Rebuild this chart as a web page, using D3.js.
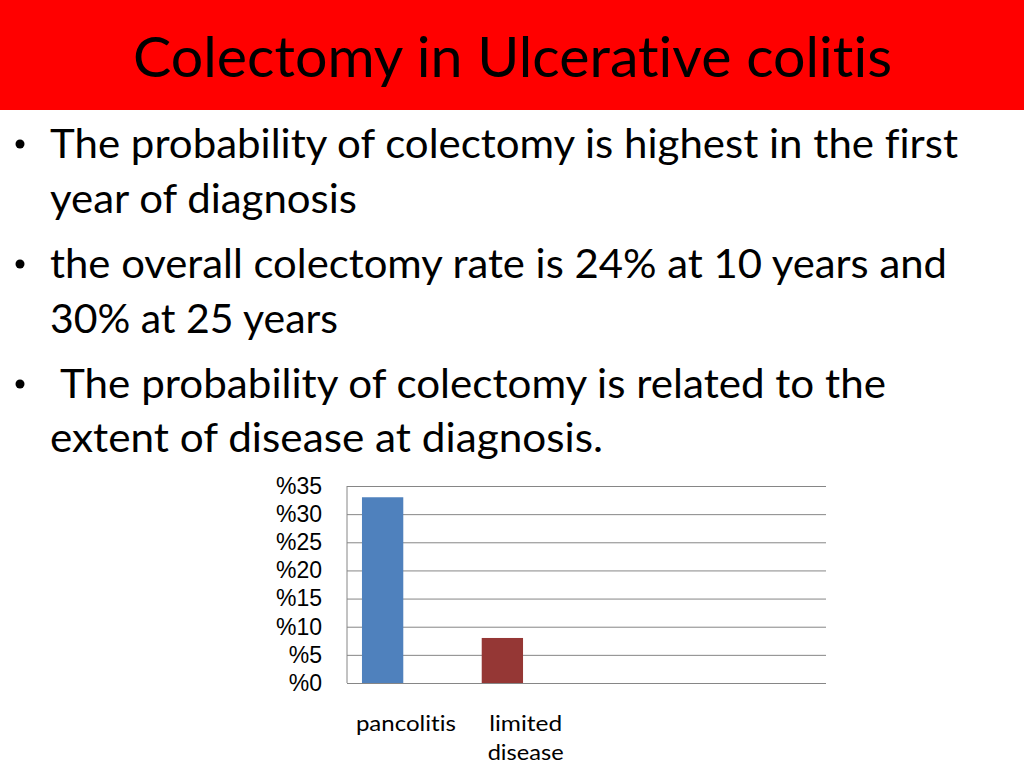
<!DOCTYPE html>
<html>
<head>
<meta charset="utf-8">
<script src="https://cdn.jsdelivr.net/npm/d3@7"></script>
<style>
  html, body { margin: 0; padding: 0; background: #fff; }
  svg { display: block; }
  text { font-variant-ligatures: none; font-feature-settings: "liga" 0, "clig" 0; }
</style>
</head>
<body>
<svg id="slide" width="1024" height="768"></svg>
<script>
// ---- data ----
const titleText = "Colectomy in Ulcerative colitis";
const bulletLines = [
  ["The probability of colectomy is highest in the first", "year of diagnosis"],
  ["the overall colectomy rate is 24% at 10 years and", "30% at 25 years"],
  [" The probability of colectomy is related to the", "extent of disease at diagnosis."]
];
const categoryLines = [["pancolitis"], ["limited", "disease"], [], []];
const values = [33, 8, null, null];
const barColors = ["#4F81BD", "#953735", "#9BBB59", "#8064A2"];
const yTicks = [0, 5, 10, 15, 20, 25, 30, 35];
const yTickLabels = ["%0", "%5", "%10", "%15", "%20", "%25", "%30", "%35"];

// ---- layout ----
const svg = d3.select("#slide");
const W = 1024, H = 768;
const bodyFont = "Lato, 'Open Sans', sans-serif";

function fit(sel, w) {
  if (w) sel.attr("textLength", w).attr("lengthAdjust", "spacingAndGlyphs");
  return sel;
}

// header
svg.append("rect").attr("x", 0).attr("y", 0).attr("width", W).attr("height", 110).attr("fill", "#FF0000");
fit(svg.append("text")
  .attr("x", 133).attr("y", 77)
  .attr("font-family", bodyFont).attr("font-size", 57)
  .attr("fill", "#000")
  .text(titleText), 759);

// bullets
const lineBase = [[158, 213], [278, 333], [398, 452]];
const lineWidths = [[908, 307], [897, 288], [826, 553]];
const lineX = [[50, 50], [50, 50], [60, 50]];
bulletLines.forEach((lines, i) => {
  svg.append("circle").attr("cx", 20).attr("cy", lineBase[i][0] - 14).attr("r", 4.5).attr("fill", "#000");
  lines.forEach((t, j) => {
    fit(svg.append("text")
      .attr("x", lineX[i][j]).attr("y", lineBase[i][j])
      .attr("font-family", bodyFont).attr("font-size", 41)
      .attr("fill", "#000")
      .text(t.trim()), lineWidths[i][j]);
  });
});

// chart
const plot = { left: 347, right: 826, top: 486, bottom: 683 };
const x = d3.scaleBand().domain(d3.range(categoryLines.length)).range([plot.left, plot.right]).paddingInner(0).paddingOuter(0);
const y = d3.scaleLinear().domain([0, 35]).range([plot.bottom, plot.top]);

const grid = svg.append("g").attr("transform", `translate(${plot.left},0)`)
  .call(d3.axisLeft(y).tickValues(yTicks).tickSize(-(plot.right - plot.left)).tickFormat((d, i) => yTickLabels[i]));
grid.select(".domain").remove();
grid.selectAll(".tick line").attr("stroke", "#868686").attr("stroke-width", 1);
grid.selectAll(".tick text")
  .attr("x", -25)
  .attr("font-family", "'Liberation Sans', Arial, sans-serif")
  .attr("font-size", 23)
  .attr("fill", "#000");

// left axis line
svg.append("line")
  .attr("x1", plot.left).attr("x2", plot.left)
  .attr("y1", y(35)).attr("y2", y(0))
  .attr("stroke", "#868686").attr("stroke-width", 1);

const bw = x.bandwidth();
svg.append("g").selectAll("rect")
  .data(values.map((v, i) => ({ v, i })).filter(d => d.v != null))
  .join("rect")
  .attr("x", d => x(d.i) + bw * 0.125)
  .attr("width", bw * 0.345)
  .attr("y", d => y(d.v))
  .attr("height", d => y(0) - y(d.v))
  .attr("fill", d => barColors[d.i]);

// category labels
const catWidths = { "pancolitis": 100, "limited": 73, "disease": 76 };
categoryLines.forEach((lines, i) => {
  lines.forEach((t, j) => {
    fit(svg.append("text")
      .attr("x", x(i) + bw / 2 - 1).attr("y", 731 + j * 29)
      .attr("text-anchor", "middle")
      .attr("font-family", bodyFont).attr("font-size", 22)
      .attr("fill", "#000")
      .text(t), catWidths[t]);
  });
});
</script>
</body>
</html>
